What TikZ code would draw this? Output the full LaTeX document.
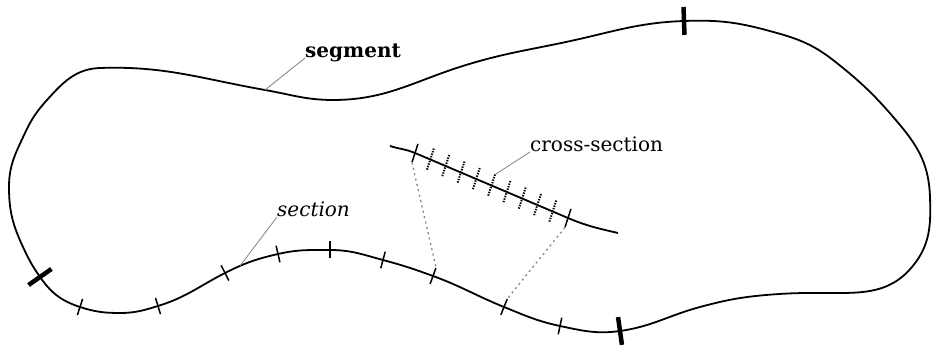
\documentclass[tikz,border=0pt]{standalone}
\usepackage{fontspec}
\setmainfont{DejaVu Serif}
\usetikzlibrary{calc}
\definecolor{leadgray}{RGB}{120,135,135}
\begin{document}
\begin{tikzpicture}[x=1pt,y=1pt,
  curve/.style={line width=1.8pt, black},
  thintick/.style={line width=1.5pt, black},
  thicktick/.style={line width=4.5pt, black},
  dtick/.style={line width=2pt, black, dash pattern=on 1.4pt off 1.2pt},
  leader/.style={line width=0.8pt, leadgray},
  connector/.style={line width=1.3pt, leadgray, dash pattern=on 2pt off 3.5pt},
  lab/.style={inner sep=0pt, font=\fontsize{20}{24}\selectfont}]
\useasboundingbox (0,0) rectangle (932,347);
% outer curve points
\coordinate (p1) at (40,70);
\coordinate (p2) at (80,40);
\coordinate (p3) at (120,34);
\coordinate (p4) at (158,41);
\coordinate (p5) at (225,74);
\coordinate (p6) at (278,93);
\coordinate (p7) at (330,97);
\coordinate (p8) at (383,87);
\coordinate (p9) at (433,71);
\coordinate (p10) at (504,40);
\coordinate (p11) at (560,21);
\coordinate (p12) at (620,16);
\coordinate (p13) at (700,40);
\coordinate (p14) at (766,52);
\coordinate (p15) at (840,54);
\coordinate (p16) at (912,80);
\coordinate (p17) at (930,150);
\coordinate (p19) at (900,222);
\coordinate (p20) at (833,287);
\coordinate (p21) at (766,317);
\coordinate (p22) at (684,326);
\coordinate (p23) at (566,305);
\coordinate (p24) at (466,282);
\coordinate (p25) at (333,247);
\coordinate (p26) at (265,257);
\coordinate (p27) at (100,279);
\coordinate (p28) at (47,247);
\coordinate (p29) at (25,214);
\coordinate (p30) at (9,160);
\coordinate (p31) at (23,100);
\draw[curve] (p1) to[out=-55,in=162] (p2) to[out=-18,in=180] (p3)
  to[out=0,in=197] (p4) to[out=17,in=207] (p5)
  to[out=27,in=193] coordinate[pos=0.28] (secl) (p6)
  to[out=13,in=180] (p7) to[out=0,in=165] (p8) to[out=-15,in=160] (p9)
  to[out=-20,in=158] (p10) to[out=-22,in=168] (p11) to[out=-12,in=188] (p12)
  to[out=8,in=195] (p13) to[out=15,in=185] (p14) to[out=5,in=180] (p15)
  to[out=0,in=230] (p16) to[out=50,in=272] (p17) to[out=92,in=310] (p19)
  to[out=130,in=322] (p20) to[out=142,in=345] (p21)
  to[out=165,in=2] (p22)
  to[out=182,in=12] (p23) to[out=192,in=17] (p24) to[out=197,in=0] (p25)
  to[out=180,in=350] (p26) to[out=170,in=2] (p27) to[out=182,in=48] (p28)
  to[out=228,in=65] (p29) to[out=245,in=90] (p30) to[out=270,in=115] (p31)
  to[out=295,in=125] (p1) -- cycle;
% ticks on outer curve
\foreach \p/\d in {p2/-18, p4/17, p5/27, p6/13, p7/0, p8/-15, p9/-20, p10/-22, p11/-12}
  \draw[thintick] (\p) ++(\d+90:8.5) -- ++(\d-90:17);
\foreach \p/\d in {p1/-55, p12/8, p22/182}
  \draw[thicktick] (\p) ++(\d+90:14) -- ++(\d-90:28);
% cross-section
\coordinate (A) at (390,201);
\coordinate (C1) at (415,194);
\coordinate (C2) at (568,129);
\coordinate (B) at (618,114);
\draw[curve] (A) to[out=-18,in=157] (C1) -- (C2) to[out=-23,in=167] (B);
\foreach \c in {C1, C2}
  \draw[thintick] (\c) ++(72:9.5) -- ++(252:19);
\foreach \k in {1,...,9}
  \draw[dtick] ($(C1)!\k/10!(C2)$) ++(72:11.5) -- ++(252:23);
\coordinate (c5top) at ($($(C1)!0.5!(C2)$)+(72:11.5)$);
\coordinate (C1bot) at ($(C1)+(252:10)$);
\coordinate (C2bot) at ($(C2)+(252:10)$);
\coordinate (p9top) at ($(p9)+(70:9)$);
\coordinate (p10top) at ($(p10)+(68:9)$);
\draw[connector] (C1bot) -- (p9top);
\draw[connector] (C2bot) -- (p10top);
% labels
\node[lab, anchor=base west] (sg) at (305,289) {\bfseries segment};
\node[lab, anchor=base west] (cs) at (530,195) {cross-section};
\node[lab, anchor=base west] (sc) at (277,130) {\itshape section};
\draw[leader] (p26) -- (sg.base west);
\draw[leader] (c5top) -- (cs.base west);
\draw[leader] (secl) -- (sc.base west);
\end{tikzpicture}
\end{document}
